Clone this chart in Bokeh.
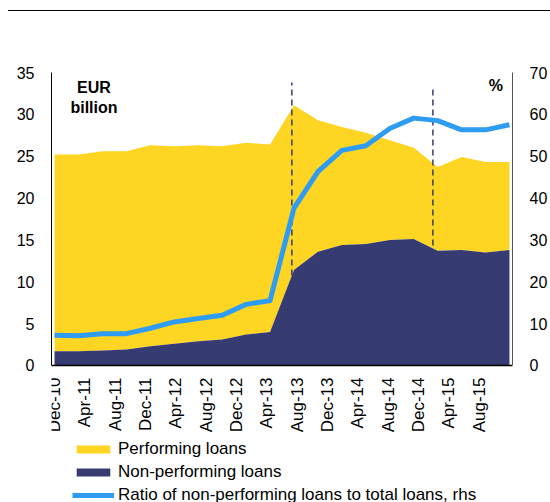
import math
from bokeh.plotting import figure
from bokeh.models import (Range1d, LinearAxis, FixedTicker, Legend, LegendItem,
                          Label, ColumnDataSource, InlineStyleSheet)
from bokeh.embed import file_html
from bokeh.resources import INLINE

# ---- data ----
tick_labels = ["Dec-10", "Apr-11", "Aug-11", "Dec-11", "Apr-12", "Aug-12", "Dec-12",
               "Apr-13", "Aug-13", "Dec-13", "Apr-14", "Aug-14", "Dec-14", "Apr-15", "Aug-15"]
tick_months = [0, 4, 8, 12, 16, 20, 24, 28, 32, 36, 40, 44, 48, 52, 56]
left_ticks = [0, 5, 10, 15, 20, 25, 30, 35]
right_ticks = [0, 10, 20, 30, 40, 50, 60, 70]

npl = [1.7, 1.7, 1.8, 1.9, 2.3, 2.6, 2.9, 3.1, 3.7, 4.0,
       11.4, 13.6, 14.4, 14.5, 15.0, 15.1, 13.7, 13.8, 13.5, 13.8]
total = [25.2, 25.2, 25.6, 25.6, 26.3, 26.2, 26.3, 26.2, 26.6, 26.4,
         31.1, 29.3, 28.5, 27.8, 26.9, 26.0, 23.7, 24.9, 24.3, 24.3]
ratio = [7.2, 7.1, 7.6, 7.6, 8.9, 10.4, 11.2, 12.0, 14.6, 15.5,
         37.6, 46.3, 51.4, 52.5, 56.6, 59.1, 58.5, 56.3, 56.3, 57.5]
event_months = [31.3, 49.9]
event_tops = [33.8, 33.2]

n = len(npl)
xs = [i * 60 / (n - 1) for i in range(n)]

YELLOW = "#FFD523"
NAVY = "#363C71"
BLUE = "#2E9CF2"
FONT = "Liberation Sans"

# frame spans from the top of the value area down to the bottom of the figure,
# so that the legend below the x axis sits inside it
Y_BOTTOM = -16.37

src = ColumnDataSource(dict(x=xs, npl=npl, total=total, ratio=ratio,
                            zero=[0] * n))

p = figure(width=550, height=502, output_backend="svg", toolbar_location=None,
           x_range=Range1d(-0.4, 60.4), y_range=Range1d(Y_BOTTOM, 35),
           min_border_left=51, min_border_right=37, min_border_top=72,
           min_border_bottom=0, outline_line_color=None,
           background_fill_color="white", border_fill_color="white")
p.extra_y_ranges = {"rhs": Range1d(2 * Y_BOTTOM, 70)}
p.grid.visible = False
p.xaxis.visible = False
p.yaxis.visible = False

r_perf = p.varea(x="x", y1="npl", y2="total", source=src, fill_color=YELLOW)
r_npl = p.varea(x="x", y1="zero", y2="npl", source=src, fill_color=NAVY)

p.segment(x0=event_months, y0=[0, 0], x1=event_months, y1=event_tops,
          line_color=NAVY, line_width=1.5, line_dash="6 4")

r_ratio = p.line(x="x", y="ratio", source=src, y_range_name="rhs",
                 line_color=BLUE, line_width=5, line_join="round")

def style_axis(ax, size):
    ax.major_tick_line_color = None
    ax.minor_tick_line_color = None
    ax.major_tick_out = 0
    ax.major_tick_in = 0
    ax.axis_line_color = "black"
    ax.major_label_text_font = FONT
    ax.major_label_text_font_size = size
    ax.major_label_text_color = "black"

xax = LinearAxis(ticker=FixedTicker(ticks=tick_months), fixed_location=0,
                 major_label_overrides={m: l for m, l in zip(tick_months, tick_labels)},
                 major_label_orientation=math.pi / 2, major_label_standoff=12)
style_axis(xax, "17px")
xax.axis_line_width = 1.5
p.add_layout(xax, "below")

yl = LinearAxis(ticker=FixedTicker(ticks=left_ticks), bounds=(0, 35),
                major_label_standoff=17)
style_axis(yl, "16px")
p.add_layout(yl, "left")

yr = LinearAxis(y_range_name="rhs", ticker=FixedTicker(ticks=right_ticks),
                bounds=(0, 70), major_label_standoff=17)
style_axis(yr, "16px")
yr.axis_line_color = "#555555"
p.add_layout(yr, "right")

for txt, yy in [("EUR", 33.2), ("billion", 30.8)]:
    p.add_layout(Label(x=5.2, y=yy, text=txt, text_font=FONT, text_font_size="16px",
                       text_font_style="bold", text_align="center",
                       text_baseline="middle", text_color="black"))
p.add_layout(Label(x=58.2, y=66.8, y_range_name="rhs", text="%", text_font=FONT,
                   text_font_size="16px", text_font_style="bold",
                   text_align="center", text_baseline="middle", text_color="black"))

legend = Legend(items=[
    LegendItem(label="Performing loans", renderers=[r_perf]),
    LegendItem(label="Non-performing loans", renderers=[r_npl]),
    LegendItem(label="Ratio of non-performing loans to total loans, rhs", renderers=[r_ratio]),
], location=(21, -3), orientation="vertical",
    glyph_width=42, glyph_height=10, label_height=21, spacing=2,
    label_standoff=4, padding=0, margin=0,
    border_line_color=None, background_fill_alpha=0,
    label_text_font=FONT, label_text_font_size="17px", label_text_color="black")
p.add_layout(legend, "center")

p.stylesheets = [InlineStyleSheet(css=(
    ":host::before { content: ''; position: absolute; left: 8px; top: 10px; "
    "width: 542px; height: 0; border-top: 1.5px solid #000; z-index: 5; "
    "pointer-events: none; }"))]

open("out.html", "w").write(file_html(p, INLINE))
